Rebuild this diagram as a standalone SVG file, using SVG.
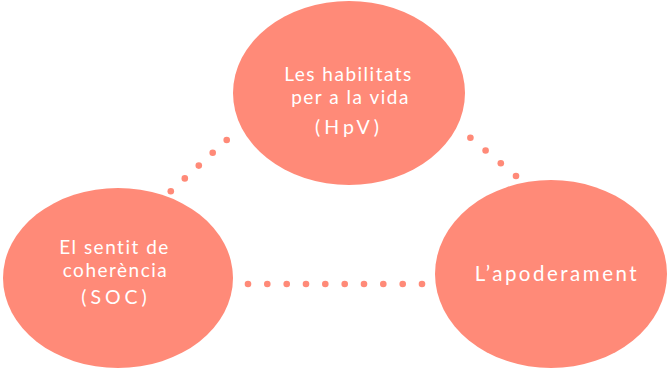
<svg xmlns="http://www.w3.org/2000/svg" width="667" height="372" viewBox="0 0 667 372">
<style>
.node{fill:#FF8A78;}
.dot{fill:#FF8A78;}
.lbl{fill:#FFFFFF;font-family:Lato,"Open Sans",sans-serif;font-size:19px;letter-spacing:1.5px;text-anchor:middle;}
.abbr{letter-spacing:4px;font-size:19.5px;}
.big{font-size:20.5px;letter-spacing:2.5px;}
</style>
<rect width="667" height="372" fill="#FFFFFF"/>
<g id="connectors">
<g id="conn-top-left">
<circle class="dot" cx="226.7" cy="140" r="3.3"/>
<circle class="dot" cx="212.7" cy="152.8" r="3.3"/>
<circle class="dot" cx="198.8" cy="165.6" r="3.3"/>
<circle class="dot" cx="184.8" cy="178.4" r="3.3"/>
<circle class="dot" cx="170.8" cy="191.2" r="3.3"/>
</g>
<g id="conn-top-right">
<circle class="dot" cx="470.4" cy="137.7" r="3.3"/>
<circle class="dot" cx="485.6" cy="150.5" r="3.3"/>
<circle class="dot" cx="500.8" cy="163.2" r="3.3"/>
<circle class="dot" cx="516" cy="176" r="3.3"/>
<circle class="dot" cx="531.2" cy="188.8" r="3.3"/>
</g>
<g id="conn-bottom">
<circle class="dot" cx="248" cy="284" r="3.3"/>
<circle class="dot" cx="267.3" cy="284" r="3.3"/>
<circle class="dot" cx="286.7" cy="284" r="3.3"/>
<circle class="dot" cx="306" cy="284" r="3.3"/>
<circle class="dot" cx="325.3" cy="284" r="3.3"/>
<circle class="dot" cx="344.7" cy="284" r="3.3"/>
<circle class="dot" cx="364" cy="284" r="3.3"/>
<circle class="dot" cx="383.3" cy="284" r="3.3"/>
<circle class="dot" cx="402.7" cy="284" r="3.3"/>
<circle class="dot" cx="422" cy="284" r="3.3"/>
</g>
</g>
<g id="node-hpv">
<ellipse class="node" cx="349" cy="93" rx="116" ry="92"/>
<text class="lbl" x="348.5" y="81">Les habilitats</text>
<text class="lbl" x="350.5" y="104">per a la vida</text>
<text class="lbl abbr" x="349" y="134">(HpV)</text>
</g>
<g id="node-soc">
<ellipse class="node" cx="118" cy="278" rx="115" ry="90"/>
<text class="lbl" x="114.5" y="254">El sentit de</text>
<text class="lbl" x="115.5" y="277">coherència</text>
<text class="lbl abbr" x="116" y="304">(SOC)</text>
</g>
<g id="node-apoderament">
<ellipse class="node" cx="551" cy="274" rx="116" ry="94"/>
<text class="lbl big" x="557" y="281">L’apoderament</text>
</g>
</svg>
